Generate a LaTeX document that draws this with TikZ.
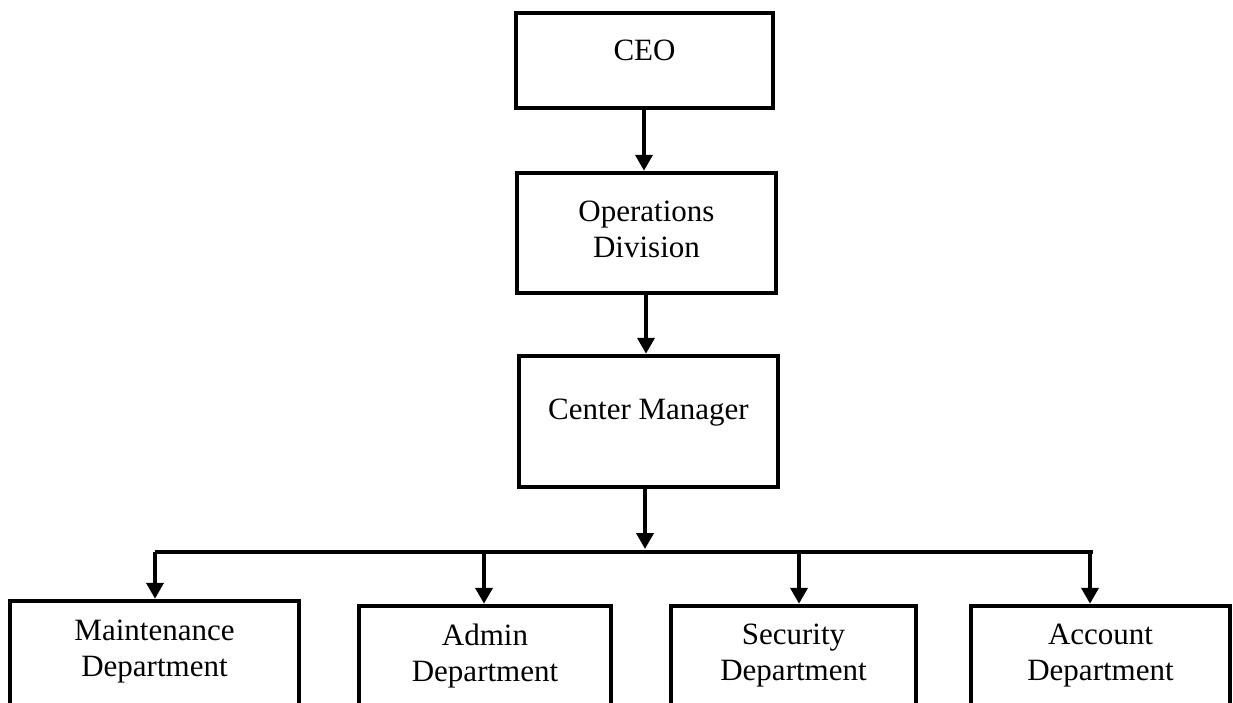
\documentclass[tikz,border=0pt]{standalone}
\usepackage{fontspec}
\setmainfont{Liberation Serif}
\usetikzlibrary{arrows.meta}
\tikzset{
  box/.style={draw=black, line width=4.5pt, fill=white, inner sep=0pt},
  lbl/.style={font=\fontsize{31}{36}\selectfont, align=center, inner sep=0pt},
  conn/.style={line width=3.8pt, draw=black},
  arr/.style={conn, -{Triangle[width=17pt,length=16pt]}}
}
\begin{document}
\begin{tikzpicture}[x=1pt,y=-1pt]
\useasboundingbox (0,0) rectangle (1233,702);
\clip (0,0) rectangle (1233,702);
% boxes
\node[box, minimum width=257pt, minimum height=95pt] (ceo) at (644.5,60.5) {};
\node[box, minimum width=259pt, minimum height=120pt] (ops) at (646.5,233) {};
\node[box, minimum width=259pt, minimum height=131pt] (cm) at (648.5,421.5) {};
\node[box, minimum width=289pt, minimum height=160pt] (mnt) at (154.5,681) {};
\node[box, minimum width=252pt, minimum height=160pt] (adm) at (485,686) {};
\node[box, minimum width=245pt, minimum height=160pt] (sec) at (793.5,686) {};
\node[box, minimum width=259pt, minimum height=160pt] (acc) at (1100.5,686) {};
% labels
\node[lbl] (ceo-t) at (644.5,50) {CEO};
\node[lbl] (ops-t) at (646.5,229) {Operations\\Division};
\node[lbl] (cm-t) at (648.5,413) {Center Manager};
\node[lbl] (mnt-t) at (154.5,652) {Maintenance\\Department};
\node[lbl] (adm-t) at (485,656) {Admin\\Department};
\node[lbl] (sec-t) at (793.5,656) {Security\\Department};
\node[lbl] (acc-t) at (1100.5,656) {Account\\Department};
% bus coordinates
\coordinate (busL) at (155,552);
\coordinate (busR) at (1093,552);
\coordinate (busC) at (645,549);
\coordinate (d1) at (155,552);
\coordinate (d2) at (484,552);
\coordinate (d3) at (799,552);
\coordinate (d4) at (1090,552);
% connectors
\draw[arr] ([xshift=-0.5pt]ceo.south) -- ([xshift=-0.5pt]ceo.south |- ops.north);
\draw[arr] ([xshift=-0.5pt]ops.south) -- ([xshift=-0.5pt]ops.south |- cm.north);
\draw[arr] (busC |- cm.south) -- (busC);
\draw[conn] (busL) -- (busR);
\draw[arr] (d1) -- (d1 |- mnt.north);
\draw[arr] (d2) -- (d2 |- adm.north);
\draw[arr] (d3) -- (d3 |- sec.north);
\draw[arr] (d4) -- (d4 |- acc.north);
\end{tikzpicture}
\end{document}
